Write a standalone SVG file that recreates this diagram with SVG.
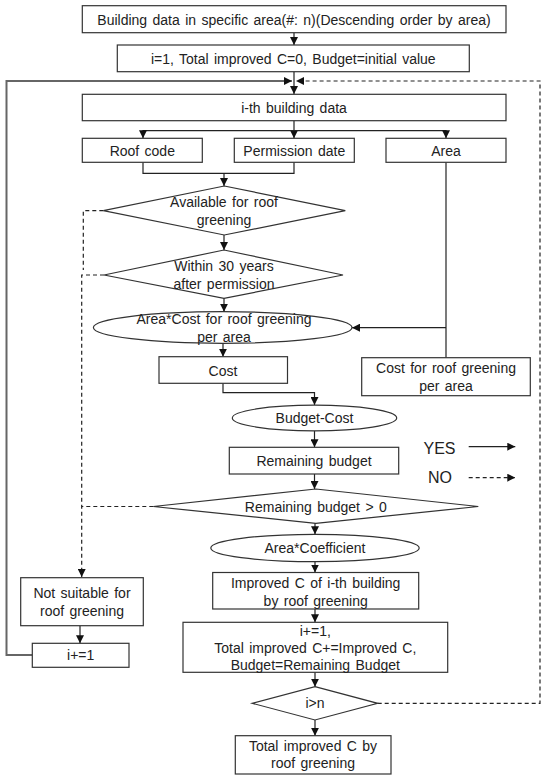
<svg xmlns="http://www.w3.org/2000/svg" width="546" height="781" viewBox="0 0 546 781">
<style>
.box{fill:#fff;stroke:#333;stroke-width:1.2}
.t{font-family:"Liberation Sans",Arial,sans-serif;font-size:14px;word-spacing:1.5px;fill:#222;text-anchor:middle;dominant-baseline:central}
.lg{font-size:16px}
.c{fill:none;stroke:#222;stroke-width:1.2}
.d{stroke-dasharray:4 3}
.gray{fill:none;stroke:#666;stroke-width:2}
</style>
<defs>
<marker id="ah" viewBox="0 0 8 8" refX="8" refY="4" markerWidth="8" markerHeight="8" markerUnits="userSpaceOnUse" orient="auto">
<path d="M0,0 L8,4 L0,8 z" fill="#111"/>
</marker>
</defs>
<rect width="546" height="781" fill="#fff"/>
<g id="connectors">
<path class="c" d="M294,32.7 V45" marker-end="url(#ah)"/>
<path class="c" d="M294,71.7 V94" marker-end="url(#ah)"/>
<path class="gray" d="M32.3,655 H6.5 V81 H284"/>
<path class="c" d="M284,81 H292" marker-end="url(#ah)"/>
<path class="c d" d="M377.7,703.3 H540 V81 H296" marker-end="url(#ah)"/>
<path class="c" d="M294,120.7 V138.3" marker-end="url(#ah)"/>
<path class="c" d="M294,130.7 H143 V138.3" marker-end="url(#ah)"/>
<path class="c" d="M294,130.7 H446 V138.3" marker-end="url(#ah)"/>
<path class="c" d="M143,162.3 V173.3 H294 V162.3"/>
<path class="c" d="M224,173.3 V186" marker-end="url(#ah)"/>
<path class="c" d="M224,235 V250" marker-end="url(#ah)"/>
<path class="c" d="M224,298.3 V311.7" marker-end="url(#ah)"/>
<path class="c" d="M223,343.3 V356.7" marker-end="url(#ah)"/>
<path class="c" d="M446,162.3 V357.7"/>
<path class="c" d="M446,327.7 H352" marker-end="url(#ah)"/>
<path class="c" d="M223,383.3 V392.7 H314.5 V405" marker-end="url(#ah)"/>
<path class="c" d="M314.5,430.7 V447.3" marker-end="url(#ah)"/>
<path class="c" d="M314.5,474 V489" marker-end="url(#ah)"/>
<path class="c" d="M315,523.3 V534.3" marker-end="url(#ah)"/>
<path class="c" d="M315,561.7 V572.5" marker-end="url(#ah)"/>
<path class="c" d="M315,609 V622.3" marker-end="url(#ah)"/>
<path class="c" d="M315,672.3 V686.7" marker-end="url(#ah)"/>
<path class="c" d="M315,720 V735.7" marker-end="url(#ah)"/>
<path class="c" d="M80,625.7 V643.3" marker-end="url(#ah)"/>
<path class="c d" d="M103.3,210.7 H83.3 V270"/>
<path class="c d" d="M104,275 H81.7 V577" marker-end="url(#ah)"/>
<path class="c d" d="M153.3,506.5 H81.7"/>
<path class="c" d="M468.7,446.7 H515.3" marker-end="url(#ah)"/>
<path class="c d" d="M468.7,477.7 H515.3" marker-end="url(#ah)"/>
</g>
<g id="n-start">
<rect class="box" x="82.3" y="5.7" width="423.7" height="27"/>
<text class="t" x="294" y="19.5">Building data in specific area(#: n)(Descending order by area)</text>
</g>
<g id="n-init">
<rect class="box" x="117.3" y="45" width="352" height="26.7"/>
<text class="t" x="293.3" y="58.5">i=1, Total improved C=0, Budget=initial value</text>
</g>
<g id="n-ith">
<rect class="box" x="82.3" y="94.3" width="423.7" height="26.4"/>
<text class="t" x="294" y="107.5">i-th building data</text>
</g>
<g id="n-roof">
<rect class="box" x="82.3" y="138.3" width="120" height="24"/>
<text class="t" x="142.3" y="150.5">Roof code</text>
</g>
<g id="n-perm">
<rect class="box" x="234.3" y="138.3" width="120" height="24"/>
<text class="t" x="294.3" y="150.5">Permission date</text>
</g>
<g id="n-area">
<rect class="box" x="386" y="138.3" width="120" height="24"/>
<text class="t" x="446" y="150.5">Area</text>
</g>
<g id="n-avail">
<polygon class="box" points="224.3,186 345.3,210.7 224.3,235 103.3,210.7"/>
<text class="t" x="224" y="202">Available for roof</text>
<text class="t" x="224" y="220">greening</text>
</g>
<g id="n-within">
<polygon class="box" points="224,250 343,275 224,298.3 104,275"/>
<text class="t" x="224" y="266">Within 30 years</text>
<text class="t" x="224" y="283.5">after permission</text>
</g>
<g id="n-calc">
<ellipse class="box" cx="222.7" cy="327.5" rx="129.3" ry="15.8"/>
<text class="t" x="224" y="319.3">Area*Cost for roof greening</text>
<text class="t" x="224" y="336.7">per area</text>
</g>
<g id="n-cost">
<rect class="box" x="159" y="356.7" width="128.5" height="26.6"/>
<text class="t" x="223" y="370.5">Cost</text>
</g>
<g id="n-costper">
<rect class="box" x="361.7" y="357.7" width="168.6" height="38"/>
<text class="t" x="446" y="368.3">Cost for roof greening</text>
<text class="t" x="446" y="386">per area</text>
</g>
<g id="n-budgetcost">
<ellipse class="box" cx="314.5" cy="418" rx="82.2" ry="12.8"/>
<text class="t" x="314.5" y="417.5">Budget-Cost</text>
</g>
<g id="n-remain">
<rect class="box" x="229.3" y="447.3" width="169.4" height="26.7"/>
<text class="t" x="314" y="461">Remaining budget</text>
</g>
<g id="n-check">
<polygon class="box" points="315.8,489 478.3,506.5 315.8,523.3 153.3,506.5"/>
<text class="t" x="315.8" y="506.5">Remaining budget &gt; 0</text>
</g>
<g id="n-coef">
<ellipse class="box" cx="315" cy="548" rx="104.2" ry="13.7"/>
<text class="t" x="315" y="548">Area*Coefficient</text>
</g>
<g id="n-improved">
<rect class="box" x="212.7" y="572.5" width="206" height="36.5"/>
<text class="t" x="315.7" y="583.3">Improved C of i-th building</text>
<text class="t" x="315.7" y="601">by roof greening</text>
</g>
<g id="n-update">
<rect class="box" x="183" y="622.3" width="264.7" height="50"/>
<text class="t" x="315.3" y="630.5">i+=1,</text>
<text class="t" x="315.3" y="648.3">Total improved C+=Improved C,</text>
<text class="t" x="315.3" y="665">Budget=Remaining Budget</text>
</g>
<g id="n-end-check">
<polygon class="box" points="315,686.7 377.7,703.3 315,720 252.3,703.3"/>
<text class="t" x="315" y="703.3">i&gt;n</text>
</g>
<g id="n-result">
<rect class="box" x="235.3" y="735.7" width="155.7" height="38.3"/>
<text class="t" x="313" y="746">Total improved C by</text>
<text class="t" x="313" y="763.3">roof greening</text>
</g>
<g id="n-notsuit">
<rect class="box" x="20.7" y="577.7" width="122.6" height="48"/>
<text class="t" x="82" y="592.7">Not suitable for</text>
<text class="t" x="82" y="610.7">roof greening</text>
</g>
<g id="n-inc">
<rect class="box" x="32.3" y="643.3" width="96.7" height="24"/>
<text class="t" x="80.7" y="655">i+=1</text>
</g>
<g id="legend">
<text class="t lg" x="439.5" y="448">YES</text>
<text class="t lg" x="440" y="477">NO</text>
</g>
</svg>
